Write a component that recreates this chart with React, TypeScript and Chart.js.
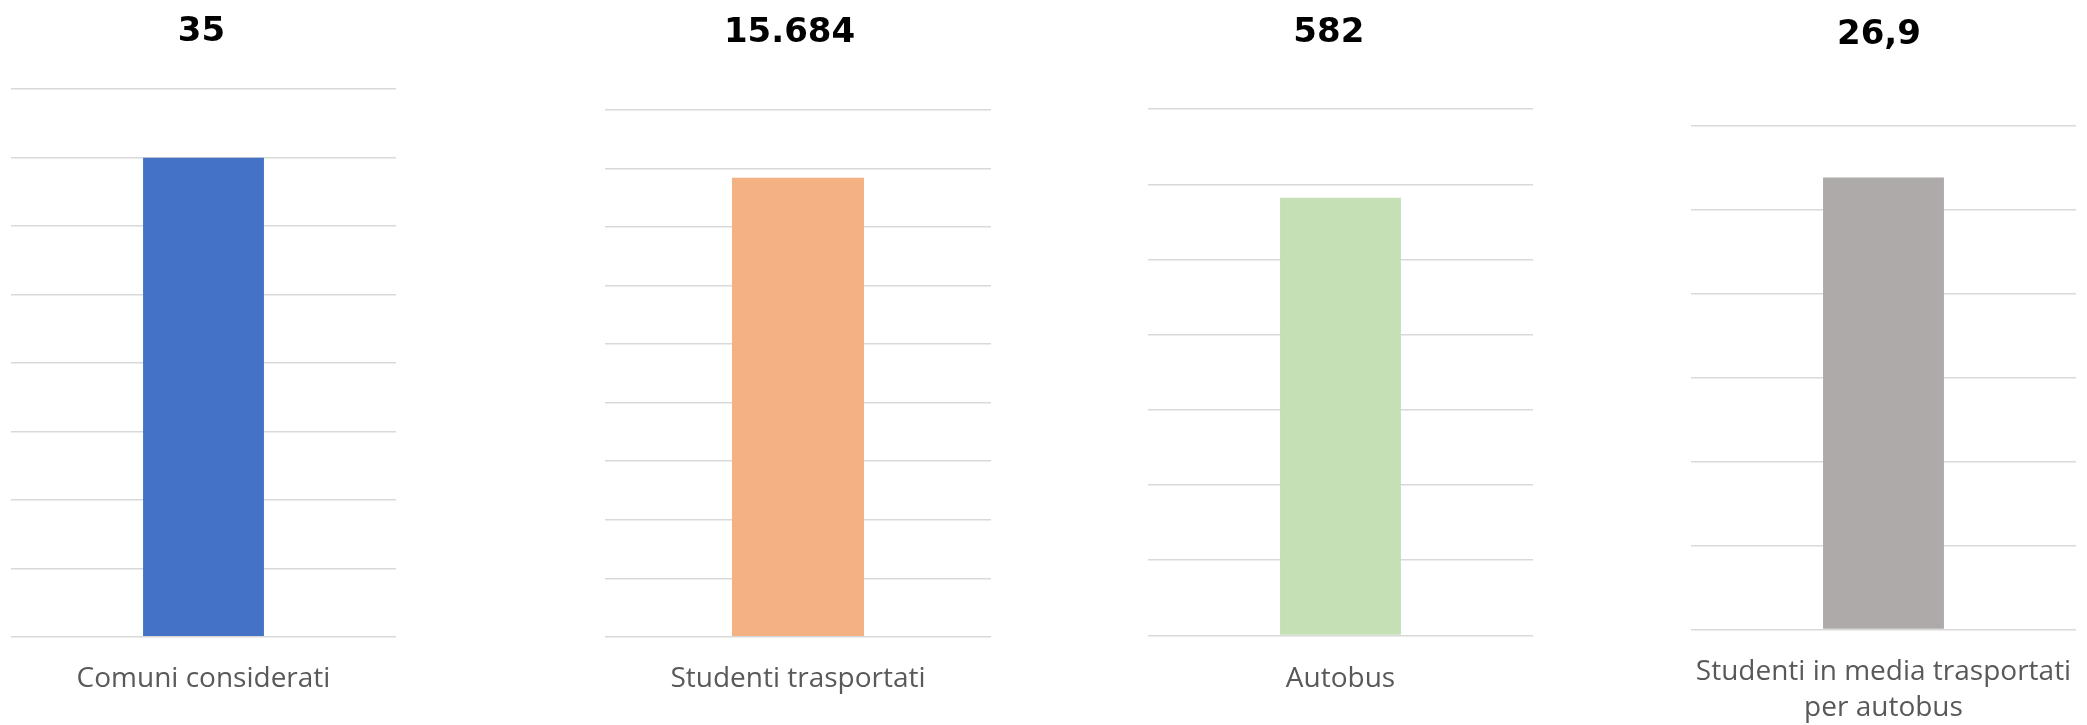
import React, { useEffect, useRef } from "react";
import { Chart, registerables } from "chart.js";

Chart.register(...registerables);

// ---- data ----
const CATEGORIES: string[][] = [
  ["Comuni considerati"],
  ["Studenti trasportati"],
  ["Autobus"],
  ["Studenti in media trasportati", "per autobus"],
];
const VALUES = [35, 15684, 582, 26.9];
const VALUE_LABELS = ["35", "15.684", "582", "26,9"];
const Y_MAX = [40, 18000, 700, 30];
const Y_STEP = [5, 2000, 100, 5];

// ---- styles / layout ----
const COLORS = ["#4472C4", "#F4B183", "#C5E0B4", "#AEAAAA"];
const H = 725;
const LAYOUT = [
  { cL: 0, cW: 480, plotL: 11, plotR: 396, top: 89.2, bottom: 636.8, titleCx: 201.5, titleCy: 32, bar: 0.314, labelMid: 679 },
  { cL: 520, cW: 540, plotL: 605, plotR: 991, top: 110, bottom: 636.8, titleCx: 789.5, titleCy: 33.5, bar: 0.342, labelMid: 679 },
  { cL: 1080, cW: 520, plotL: 1148, plotR: 1533, top: 109.1, bottom: 635.4, titleCx: 1328.8, titleCy: 33.5, bar: 0.314, labelMid: 679 },
  { cL: 1640, cW: 447, plotL: 1691, plotR: 2076, top: 125.3, bottom: 629.4, titleCx: 1879, titleCy: 35, bar: 0.314, labelMid: 672 },
];
const TITLE_SIZE = 34;
const TITLE_LH = 1.2;
const LABEL_SIZE = 28;
const LABEL_LH = 1.27;

function MiniChart({ i }: { i: number }) {
  const ref = useRef<HTMLCanvasElement | null>(null);
  const L = LAYOUT[i];
  useEffect(() => {
    if (!ref.current) return;
    const yW = L.plotL + L.plotR - 2 * L.titleCx;
    const padL = L.plotL - yW - L.cL;
    const padR = L.cL + L.cW - L.plotR;
    const tLine = TITLE_SIZE * TITLE_LH;
    const tTop = L.titleCy - tLine / 2;
    const tBottom = L.top - tTop - tLine;
    const xH = H - L.bottom;
    const labelPad = L.labelMid - L.bottom - (LABEL_SIZE * LABEL_LH) / 2;
    const chart = new Chart(ref.current, {
      type: "bar",
      data: {
        labels: [CATEGORIES[i]],
        datasets: [
          {
            data: [VALUES[i]],
            backgroundColor: COLORS[i],
            borderWidth: 0,
            barPercentage: L.bar,
            categoryPercentage: 1,
          },
        ],
      },
      options: {
        animation: false,
        responsive: false,
        maintainAspectRatio: false,
        layout: { padding: { left: padL, right: padR, top: 0, bottom: 0 } },
        plugins: {
          legend: { display: false },
          tooltip: { enabled: false },
          title: {
            display: true,
            text: VALUE_LABELS[i],
            color: "#000000",
            font: { family: "DejaVu Sans", size: TITLE_SIZE, weight: "bold", lineHeight: TITLE_LH },
            padding: { top: tTop, bottom: tBottom },
          },
        },
        scales: {
          x: {
            grid: { display: false, drawTicks: false },
            border: { display: false },
            ticks: {
              color: "#595959",
              font: { family: "Open Sans", size: LABEL_SIZE, lineHeight: LABEL_LH },
              padding: labelPad,
              maxRotation: 0,
              minRotation: 0,
              autoSkip: false,
            },
            afterFit: (s: any) => {
              s.height = xH;
              s.paddingLeft = 0;
              s.paddingRight = 0;
            },
          },
          y: {
            min: 0,
            max: Y_MAX[i],
            ticks: { display: false, stepSize: Y_STEP[i] },
            grid: { color: "#D9D9D9", lineWidth: 1.5, drawTicks: false },
            border: { display: false },
            afterFit: (s: any) => {
              s.width = yW;
              s.paddingTop = 0;
              s.paddingBottom = 0;
            },
          },
        },
      },
    });
    return () => chart.destroy();
  }, [i]);
  return (
    <canvas
      ref={ref}
      width={L.cW}
      height={H}
      style={{ position: "absolute", left: L.cL, top: 0, width: L.cW, height: H }}
    />
  );
}

export default function App() {
  return (
    <div style={{ position: "absolute", left: 0, top: 0, width: 2087, height: H, background: "#ffffff" }}>
      {VALUES.map((_, i) => (
        <MiniChart key={i} i={i} />
      ))}
    </div>
  );
}
